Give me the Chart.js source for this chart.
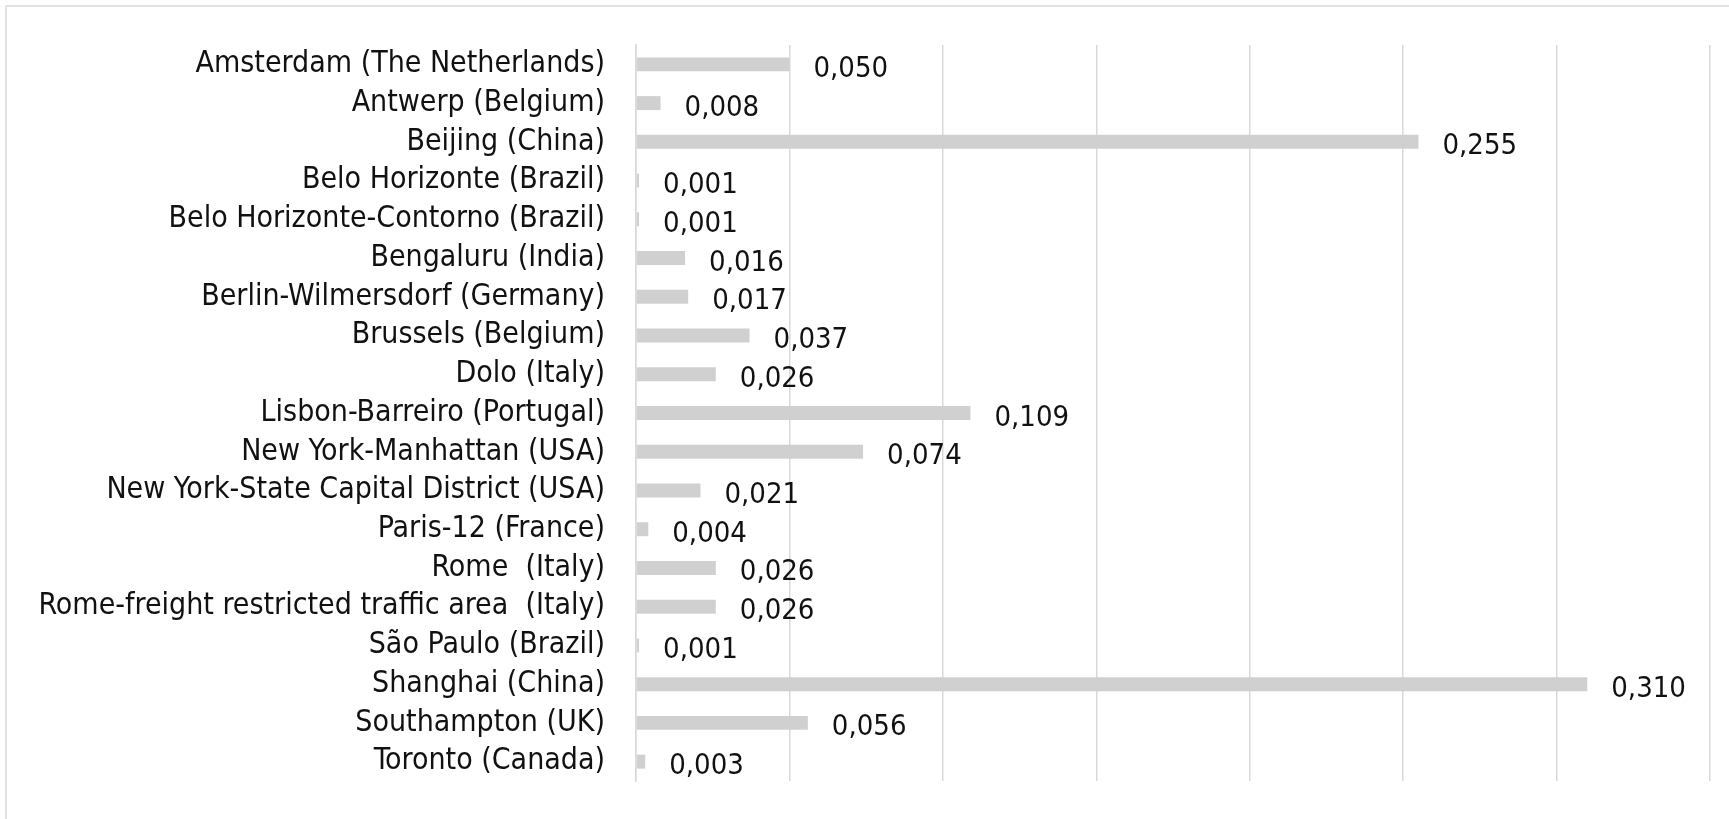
<!DOCTYPE html>
<html><head><meta charset="utf-8">
<script src="https://cdn.jsdelivr.net/npm/chart.js@4.4.0/dist/chart.umd.min.js"></script>
<style>
html,body{margin:0;padding:0;background:#fff;overflow:hidden}
#frame{position:absolute;left:5px;top:5px;width:1740px;height:830px;border-top:2px solid #e3e3e3;border-left:2px solid #e3e3e3;box-sizing:border-box}
#wrap{position:absolute;left:0;top:0;width:1729px;height:819px}
</style></head>
<body>
<div id="frame"></div>
<div id="wrap"><canvas id="c" width="1729" height="819"></canvas></div>
<script>
const categories = [
  "Amsterdam (The Netherlands)",
  "Antwerp (Belgium)",
  "Beijing (China)",
  "Belo Horizonte (Brazil)",
  "Belo Horizonte-Contorno (Brazil)",
  "Bengaluru (India)",
  "Berlin-Wilmersdorf (Germany)",
  "Brussels (Belgium)",
  "Dolo (Italy)",
  "Lisbon-Barreiro (Portugal)",
  "New York-Manhattan (USA)",
  "New York-State Capital District (USA)",
  "Paris-12 (France)",
  "Rome  (Italy)",
  "Rome-freight restricted traffic area  (Italy)",
  "São Paulo (Brazil)",
  "Shanghai (China)",
  "Southampton (UK)",
  "Toronto (Canada)"
];
const values = [0.050, 0.008, 0.255, 0.001, 0.001, 0.016, 0.017, 0.037, 0.026, 0.109, 0.074, 0.021, 0.004, 0.026, 0.026, 0.001, 0.310, 0.056, 0.003];
const xMin = 0, xMax = 0.35, xStep = 0.05;

const FONT = "'DejaVu Sans Condensed', 'DejaVu Sans', sans-serif";
const CAT_SIZE = 30;
const VAL_SIZE = 29;

const valueLabels = {
  id: 'valueLabels',
  afterDatasetsDraw(chart) {
    const ctx = chart.ctx;
    const meta = chart.getDatasetMeta(0);
    ctx.save();
    ctx.font = VAL_SIZE + 'px ' + FONT;
    ctx.fillStyle = '#111';
    ctx.textAlign = 'left';
    ctx.textBaseline = 'middle';
    meta.data.forEach((bar, i) => {
      const txt = values[i].toFixed(3).replace('.', ',');
      ctx.fillText(txt, bar.x + 24, bar.y + 5);
    });
    ctx.restore();
  }
};

const chart = new Chart(document.getElementById('c'), {
  type: 'bar',
  data: {
    labels: categories,
    datasets: [{
      data: values,
      backgroundColor: '#d0d0d0',
      borderWidth: 0,
      barPercentage: 0.36,
      categoryPercentage: 1.0
    }]
  },
  options: {
    indexAxis: 'y',
    responsive: false,
    animation: false,
    devicePixelRatio: 1,
    layout: { padding: { left: 0, right: 19, top: 45, bottom: 38 } },
    plugins: { legend: { display: false }, tooltip: { enabled: false } },
    scales: {
      x: {
        min: xMin, max: xMax,
        ticks: { display: false, stepSize: xStep },
        grid: { color: '#d9d9d9', lineWidth: 1.5, drawTicks: false },
        border: { display: false },
        afterFit(s) { s.height = 0; s.paddingLeft = 0; s.paddingRight = 0; }
      },
      y: {
        ticks: { color: '#111', font: { family: FONT, size: CAT_SIZE }, padding: 31, autoSkip: false },
        grid: { display: false, drawTicks: false },
        border: { display: true, color: '#d9d9d9', width: 1.5 },
        afterFit(s) { s.width = 636; s.paddingTop = 0; s.paddingBottom = 0; }
      }
    }
  },
  plugins: [valueLabels]
});
</script>
</body></html>
